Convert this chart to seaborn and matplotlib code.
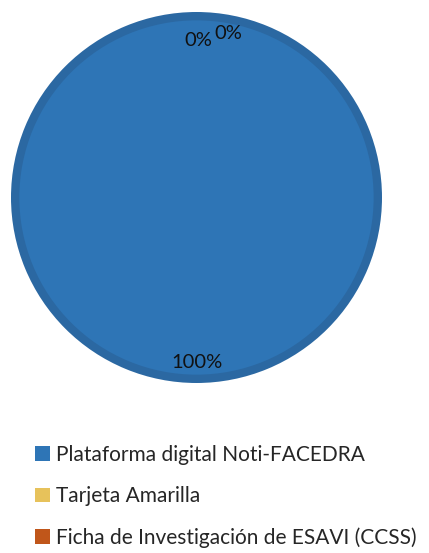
import matplotlib
matplotlib.use("Agg")
import matplotlib.pyplot as plt
import seaborn as sns

sns.set_theme(style="white")
plt.rcParams['font.family'] = ['Lato', 'DejaVu Sans']

categories = ["Plataforma digital Noti-FACEDRA", "Tarjeta Amarilla",
              "Ficha de Investigación de ESAVI (CCSS)"]
values = [100, 0, 0]
colors = ["#2E75B6", "#E7C25B", "#C0561A"]
edge_colors = ["#2B68A2", "#CDAA4E", "#A84B16"]

fig = plt.figure(figsize=(4.29, 5.53), dpi=100)
ax = fig.add_axes([11/429, (553-383)/553, 371/429, 371/553])

ax.pie(values, colors=edge_colors, startangle=90, counterclock=False,
       radius=1.0, wedgeprops=dict(linewidth=0))
wedges, texts, autotexts = ax.pie(
    values, colors=colors, startangle=90, counterclock=False, radius=0.955,
    autopct=lambda p: f"{p:.0f}%", pctdistance=0.92,
    wedgeprops=dict(linewidth=0),
    textprops=dict(fontsize=14.5, color="#111111"))
# nudge the overlapping zero-value labels apart
zero_offsets = [(0.0, -0.01), (0.01, -0.03), (0.17, 0.005)]
for t, (dx, dy) in zip(autotexts, zero_offsets):
    x, y = t.get_position()
    t.set_position((x + dx, y + dy))
ax.set_xlim(-1, 1)
ax.set_ylim(-1, 1)
ax.set_aspect("equal")
ax.axis("off")

fig.legend(wedges, categories, loc="upper left",
           bbox_to_anchor=(35/429, 1 - 445/553), frameon=False,
           fontsize=15, handlelength=0.72, handleheight=0.72,
           handletextpad=0.3, labelspacing=1.02, borderpad=0,
           borderaxespad=0)

fig.savefig("out.png", dpi=100)
